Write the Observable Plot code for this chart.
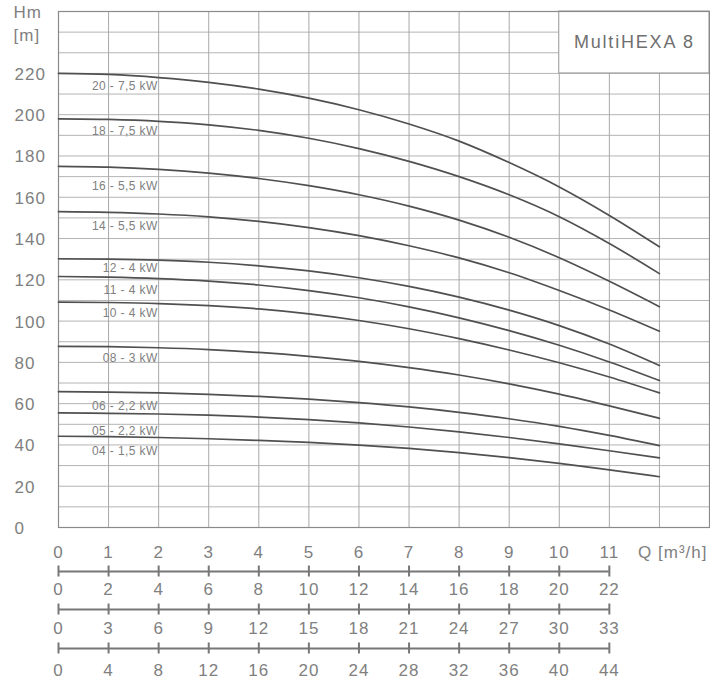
<!DOCTYPE html>
<html><head><meta charset="utf-8">
<script src="https://cdn.jsdelivr.net/npm/d3@7"></script>
<script src="https://cdn.jsdelivr.net/npm/@observablehq/plot@0.6"></script>
<style>
body{margin:0;background:#fff}
svg g[font-size="17"] text{letter-spacing:1px}
svg g[font-size="12"] text{letter-spacing:0.4px}
svg g[font-size="18"] text{letter-spacing:1.8px}
</style></head><body><div id="chart"></div>
<script>
// Flow Q [m³/h]
const flow = [0,1,2,3,4,5,6,7,8,9,10,11,12];
// Head Hm [m] per model
const h20 = [220, 219.5, 218, 215.7, 212.4, 208, 202.4, 195.5, 187.2, 176.8, 165, 151.2, 136];
const h18 = [198, 197.7, 196.8, 195.1, 192.4, 188.6, 183.6, 177.4, 170, 161.2, 150.6, 137.6, 123];
const h16 = [175, 174.6, 173.5, 171.7, 169.1, 165.6, 161.2, 155.7, 148.9, 140.6, 130.7, 119.3, 107];
const h14 = [153, 152.7, 151.9, 150.5, 148.3, 145.3, 141.4, 136.5, 130.6, 123.4, 114.8, 105.4, 95.1];
const h12 = [130.2, 130, 129.5, 128.5, 126.8, 124.3, 121, 116.8, 111.6, 105.3, 97.8, 88.9, 78.5];
const h11 = [121.6, 121.3, 120.6, 119.4, 117.5, 114.8, 111.3, 106.9, 101.6, 95.4, 88.3, 80.2, 71.2];
const h10 = [109.2, 109, 108.5, 107.5, 105.9, 103.5, 100.3, 96.3, 91.5, 86, 79.8, 72.9, 65.2];
const h08 = [87.8, 87.6, 87.1, 86.2, 84.8, 82.9, 80.5, 77.5, 73.9, 69.6, 64.6, 58.9, 52.9];
const h06 = [65.8, 65.6, 65.2, 64.5, 63.5, 62.2, 60.5, 58.4, 55.8, 52.7, 49, 44.6, 39.7];
const h05 = [55.5, 55.3, 55, 54.4, 53.5, 52.3, 50.7, 48.7, 46.3, 43.6, 40.5, 37.2, 33.7];
const h04 = [44.2, 44, 43.6, 43, 42.2, 41.2, 39.9, 38.3, 36.3, 33.9, 31.1, 27.9, 24.6];
const models = ["20 - 7,5 kW","18 - 7,5 kW","16 - 5,5 kW","14 - 5,5 kW","12 - 4 kW","11 - 4 kW","10 - 4 kW","08 - 3 kW","06 - 2,2 kW","05 - 2,2 kW","04 - 1,5 kW"];
const heads = [h20,h18,h16,h14,h12,h11,h10,h08,h06,h05,h04];
const labelHeights = [213.8, 191.9, 165.2, 146, 125.8, 114.8, 103.8, 82.2, 59, 46.5, 36.8];
const labelFlow = 2;
// Axes tick labels
const yTicks = [0,20,40,60,80,100,120,140,160,180,200,220];
const qTicks = [0,1,2,3,4,5,6,7,8,9,10,11];
const scale2 = [0,2,4,6,8,10,12,14,16,18,20,22];
const scale3 = [0,3,6,9,12,15,18,21,24,27,30,33];
const scale4 = [0,4,8,12,16,20,24,28,32,36,40,44];
const title = "MultiHEXA 8";

const rows = [];
models.forEach((m, k) => heads[k].forEach((h, i) => rows.push({model: m, q: flow[i], h})));
const labels = models.map((m, k) => ({model: m, h: labelHeights[k]}));

const gridX = d3.range(0, 14, 1);
const gridY = d3.range(0, 251, 10);
const txt = "#808080";
const axisCol = "#777";

const rowText = (vals, dy) => Plot.text(vals, {x: (d, i) => qTicks[i], text: d => String(d), frameAnchor: "bottom", lineAnchor: "middle", dy, fontSize: 17, fill: txt});
const rowLine = (dy) => [
  Plot.ruleY([0], {x1: 0, x2: 11, dy, stroke: axisCol, strokeWidth: 2}),
  Plot.ruleX(qTicks, {x: d => d, y1: d => 0, y2: d => 0, insetTop: -5.5, insetBottom: -5.5, dy, stroke: axisCol, strokeWidth: 2})
];

const chart = Plot.plot({
  width: 710, height: 681,
  marginLeft: 58, marginRight: 1, marginTop: 11, marginBottom: 154,
  x: {domain: [0, 13], axis: null},
  y: {domain: [0, 250], axis: null},
  style: {fontFamily: "'Liberation Sans', Arial, sans-serif", background: "white"},
  marks: [
    Plot.ruleY(gridY, {stroke: "#b4b4b4", strokeWidth: 1}),
    Plot.ruleX(gridX, {stroke: "#a8a8a8", strokeWidth: 1}),
    Plot.rect([title], {x1: 10, x2: 13, y1: 220, y2: 250, fill: "white", stroke: "#999"}),
    Plot.text([title], {x: 11.5, y: 235, text: d => d, fontSize: 18, fill: "#707070"}),
    Plot.frame({stroke: "#8a8a8a", strokeWidth: 1.2}),
    Plot.line(rows, {x: "q", y: "h", z: "model", stroke: "#505050", strokeWidth: 1.7, curve: "monotone-x"}),
    Plot.text(labels, {x: labelFlow, y: "h", text: "model", textAnchor: "end", dx: -1, fontSize: 12, fill: txt}),
    Plot.text(yTicks, {y: d => d, text: d => String(d), frameAnchor: "left", textAnchor: "start", lineAnchor: "middle", dx: -44, dy: 1, fontSize: 17, fill: txt}),
    Plot.text(["Hm"], {text: d => d, frameAnchor: "top-left", textAnchor: "start", lineAnchor: "middle", dx: -45, dy: 1, fontSize: 17, fill: txt}),
    Plot.text(["[m]"], {text: d => d, frameAnchor: "top-left", textAnchor: "start", lineAnchor: "middle", dx: -45, dy: 24, fontSize: 17, fill: txt}),
    rowText(qTicks, 25),
    Plot.text(["Q [m³/h]"], {text: d => d, frameAnchor: "bottom-right", textAnchor: "end", lineAnchor: "middle", dx: -2, dy: 25, fontSize: 17, fill: txt}),
    ...rowLine(44),
    rowText(scale2, 62),
    ...rowLine(82),
    rowText(scale3, 101),
    ...rowLine(121),
    rowText(scale4, 143)
  ]
});
document.getElementById("chart").append(chart);
</script></body></html>
